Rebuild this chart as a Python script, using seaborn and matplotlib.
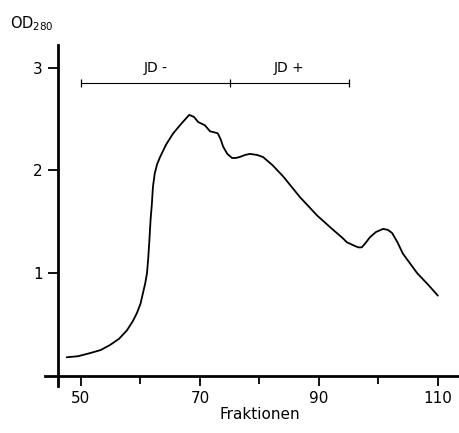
import matplotlib
matplotlib.use("Agg")
import matplotlib.pyplot as plt
import seaborn as sns
import pandas as pd

# elution profile
fraction = [47.6, 49.5, 51.5, 53.3, 54.9, 56.4, 57.7, 58.7, 59.4, 60.0, 60.4, 60.8,
            61.1, 61.3, 61.5, 61.7, 61.9, 62.1, 62.4, 62.8, 63.3, 64.3, 65.5, 66.8,
            68.2, 69.0, 69.7, 70.8, 71.7, 72.4, 73.0, 73.5, 73.9, 74.6, 75.4, 76.0,
            76.7, 77.6, 78.4, 79.6, 80.6, 82.2, 84.0, 86.8, 89.7, 92.4, 94.0, 94.7,
            95.8, 96.6, 97.2, 97.8, 98.6, 99.6, 100.8, 101.6, 102.3, 103.2, 104.1,
            106.5, 108.3, 110.0]
od280 = [0.18, 0.19, 0.22, 0.25, 0.30, 0.36, 0.44, 0.53, 0.61, 0.70, 0.80, 0.90,
         1.00, 1.14, 1.32, 1.52, 1.66, 1.84, 1.97, 2.06, 2.13, 2.25, 2.36, 2.45,
         2.54, 2.52, 2.47, 2.44, 2.38, 2.37, 2.36, 2.30, 2.23, 2.16, 2.12, 2.12,
         2.13, 2.15, 2.16, 2.15, 2.13, 2.05, 1.94, 1.74, 1.56, 1.42, 1.34, 1.30,
         1.27, 1.25, 1.25, 1.29, 1.35, 1.40, 1.43, 1.42, 1.39, 1.30, 1.19,
         1.00, 0.89, 0.78]

# JD- / JD+ pool ranges
pool_edges = [50, 75, 95]
pool_labels = ["JD -", "JD +"]
pool_level = 2.85

x_major = [50, 70, 90, 110]
x_minor = [60, 80, 100]
y_ticks = [1, 2, 3]

df = pd.DataFrame({"fraction": fraction, "od280": od280})

sns.set_style("ticks")
plt.rcParams["font.family"] = ["DejaVu Sans"]
plt.rcParams["text.color"] = "black"
plt.rcParams["axes.edgecolor"] = "black"
plt.rcParams["xtick.color"] = "black"
plt.rcParams["ytick.color"] = "black"
plt.rcParams["axes.labelcolor"] = "black"

fig = plt.figure(figsize=(4.6, 4.33), dpi=100)
ax = fig.add_axes([0.0978, 0.1085, 0.902, 0.7875])

sns.lineplot(data=df, x="fraction", y="od280", ax=ax, color="black", linewidth=1.3,
             sort=False)

# pool bracket
ax.hlines(pool_level, pool_edges[0], pool_edges[-1], color="black", linewidth=0.8)
ax.vlines(pool_edges, pool_level - 0.04, pool_level + 0.04, color="black", linewidth=0.9)
for i, lab in enumerate(pool_labels):
    mid = (pool_edges[i] + pool_edges[i + 1]) / 2
    ax.text(mid, 3.0, lab, ha="center", va="center", fontsize=10)

ax.set_xlim(43.95, 113.7)
ax.set_ylim(-0.1, 3.22)
ax.spines["left"].set_position(("data", 46.1))
ax.spines["bottom"].set_position(("data", 0))
ax.spines["right"].set_visible(False)
ax.spines["top"].set_visible(False)
for s in ["left", "bottom"]:
    ax.spines[s].set_linewidth(2.0)

ax.set_xticks(x_major)
ax.set_xticks(x_minor, minor=True)
ax.set_yticks(y_ticks)
ax.tick_params(axis="both", which="major", direction="out", length=7, width=1.3,
               labelsize=11, pad=4)
ax.tick_params(axis="x", which="minor", direction="out", length=6, width=1.3)
ax.set_xlabel("")
ax.set_ylabel("")

fig.text(0.022, 0.945, "OD$_{280}$", fontsize=10.5, ha="left", va="center")
fig.text(0.565, 0.043, "Fraktionen", fontsize=11, ha="center", va="center")

fig.savefig("out.png", dpi=100)
